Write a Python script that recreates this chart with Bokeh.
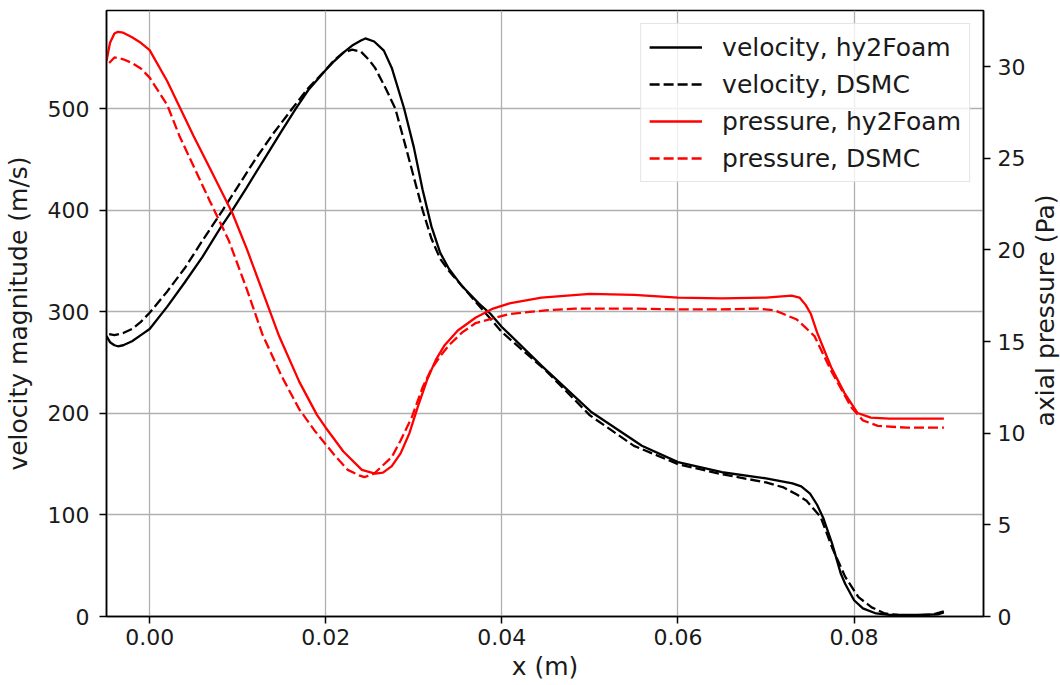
import math
from bokeh.plotting import figure
from bokeh.layouts import row
from bokeh.models import (Range1d, LinearAxis, FixedTicker, PrintfTickFormatter,
                          Legend, LegendItem, Label)
from bokeh.embed import file_html
from bokeh.resources import INLINE

# ---------------- data ----------------
vel_hy_x = [-0.0049, -0.0045, -0.004, -0.0036, -0.003, -0.002, -0.001, 0.0, 0.002, 0.004,
            0.006, 0.008, 0.0094, 0.011, 0.013, 0.015, 0.0166, 0.018, 0.020, 0.021,
            0.022, 0.023, 0.024, 0.0245, 0.0255, 0.0266, 0.0275, 0.0289, 0.030, 0.031,
            0.032, 0.033, 0.034, 0.0355, 0.0374, 0.0387, 0.040, 0.0445, 0.0502, 0.0559,
            0.060, 0.065, 0.070, 0.073, 0.074, 0.075, 0.0758, 0.0765, 0.0775, 0.0785,
            0.079, 0.080, 0.081, 0.0825, 0.084, 0.087, 0.0895, 0.0902]
vel_hy_y = [276, 270, 267, 266, 267, 271, 277, 283, 305, 329,
            354, 382, 400, 422, 450, 478, 500, 518, 538, 547,
            555, 562, 567, 569, 566, 557, 540, 500, 462, 420,
            384, 358, 342, 325, 308, 298, 285, 247, 201, 168,
            152, 142, 136, 131, 128, 121, 110, 97, 72, 42,
            32, 16, 8, 3, 1.5, 1.5, 2, 4]

vel_dsmc_x = [-0.0046, -0.004, -0.003, -0.002, -0.001, 0.0, 0.002, 0.004, 0.006, 0.0083,
              0.010, 0.012, 0.014, 0.0162, 0.018, 0.020, 0.021, 0.022, 0.023, 0.024,
              0.025, 0.0256, 0.0268, 0.0279, 0.029, 0.031, 0.032, 0.033, 0.034, 0.036,
              0.038, 0.040, 0.045, 0.050, 0.055, 0.060, 0.065, 0.070, 0.072, 0.0735,
              0.0746, 0.0762, 0.0775, 0.079, 0.0805, 0.082, 0.0835, 0.085, 0.087, 0.089,
              0.0902]
vel_dsmc_y = [278, 277, 279, 283, 290, 299, 320, 343, 370, 400,
              423, 450, 475, 500, 520, 538, 548, 555, 558, 556,
              547, 540, 520, 500, 465, 400, 372, 352, 340, 320,
              300, 280, 242, 198, 168, 150, 140, 132, 127, 120,
              114, 98, 68, 39, 19, 9, 3, 1.5, 1, 2,
              5]

p_hy_x = [-0.0049, -0.0045, -0.004, -0.0036, -0.003, -0.002, -0.001, 0.0, 0.002, 0.005,
          0.007, 0.0094, 0.011, 0.013, 0.0147, 0.017, 0.019, 0.020, 0.022, 0.0241,
          0.0256, 0.0265, 0.0275, 0.0285, 0.0295, 0.0305, 0.0315, 0.0325, 0.0335, 0.035,
          0.037, 0.039, 0.041, 0.0445, 0.050, 0.055, 0.060, 0.065, 0.070, 0.0729,
          0.0738, 0.0745, 0.0751, 0.0758, 0.0774, 0.0789, 0.0804, 0.0819, 0.084, 0.0902]
p_hy_y = [30.3, 31.3, 31.8, 31.9, 31.85, 31.6, 31.3, 30.9, 29.2, 26.2,
          24.3, 22.0, 20.1, 17.5, 15.3, 12.8, 11.0, 10.3, 9.0, 8.0,
          7.8, 7.85, 8.2, 8.9, 10.0, 11.5, 12.9, 14.0, 14.8, 15.6,
          16.3, 16.8, 17.1, 17.4, 17.6, 17.55, 17.4, 17.35, 17.4, 17.5,
          17.4, 17.0, 16.5, 15.5, 13.6, 12.2, 11.1, 10.85, 10.8, 10.8]

p_dsmc_x = [-0.0046, -0.004, -0.003, -0.002, -0.001, 0.0, 0.002, 0.0034, 0.0068, 0.009,
            0.011, 0.0128, 0.015, 0.017, 0.0188, 0.021, 0.0225, 0.0238, 0.0244, 0.0255,
            0.0275, 0.0285, 0.0298, 0.031, 0.032, 0.033, 0.034, 0.0355, 0.037, 0.0408,
            0.045, 0.0483, 0.055, 0.060, 0.065, 0.069, 0.071, 0.072, 0.0735, 0.0744,
            0.0755, 0.0774, 0.0797, 0.081, 0.0827, 0.086, 0.0902]
p_dsmc_y = [30.2, 30.5, 30.4, 30.2, 29.9, 29.4, 27.9, 26.2, 22.7, 20.5,
            17.9, 15.4, 13.1, 11.3, 10.1, 8.8, 8.0, 7.7, 7.6, 7.8,
            8.7, 9.6, 10.9, 12.5, 13.5, 14.2, 14.8, 15.5, 16.0, 16.5,
            16.7, 16.8, 16.8, 16.75, 16.75, 16.8, 16.7, 16.5, 16.2, 15.8,
            15.3, 13.4, 11.4, 10.7, 10.4, 10.3, 10.3]

x_ticks = [0.0, 0.02, 0.04, 0.06, 0.08]
vel_ticks = [0, 100, 200, 300, 400, 500]
p_ticks = [0, 5, 10, 15, 20, 25, 30]

labels = ["velocity, hy2Foam", "velocity, DSMC", "pressure, hy2Foam", "pressure, DSMC"]
right_label = "axial pressure (Pa)"

# ---------------- figure ----------------
FONT = "DejaVu Sans"
TXT = "#1a1a1a"
MAIN_W, STRIP_W, H = 1030, 30, 685

p = figure(width=MAIN_W, height=H, output_backend="svg", toolbar_location=None,
           x_range=Range1d(-0.0049, 0.0947), y_range=Range1d(0, 596.5),
           min_border_left=104, min_border_right=47, min_border_top=10, min_border_bottom=69)
p.extra_y_ranges = {"p": Range1d(0, 33.06)}

p.outline_line_color = "black"
p.outline_line_width = 1.5
p.outline_line_alpha = 1.0

p.xgrid.ticker = FixedTicker(ticks=x_ticks)
p.ygrid.ticker = FixedTicker(ticks=vel_ticks)
for g in (p.xgrid, p.ygrid):
    g.grid_line_color = "#b0b0b0"
    g.grid_line_width = 1.3

def style_axis(ax):
    ax.axis_line_color = "black"
    ax.axis_line_width = 1.5
    ax.major_tick_line_color = "black"
    ax.major_tick_line_width = 1.5
    ax.major_tick_out = 7
    ax.major_tick_in = 0
    ax.minor_tick_line_color = None
    ax.major_label_text_font = FONT
    ax.major_label_text_font_size = "22px"
    ax.major_label_text_color = TXT
    ax.axis_label_text_font = FONT
    ax.axis_label_text_font_size = "25px"
    ax.axis_label_text_font_style = "normal"
    ax.axis_label_text_color = TXT

xa = p.xaxis[0]
style_axis(xa)
xa.ticker = FixedTicker(ticks=x_ticks)
xa.formatter = PrintfTickFormatter(format="%.2f")
xa.axis_label = "x (m)"
xa.major_label_standoff = 5
xa.axis_label_standoff = 4

ya = p.yaxis[0]
style_axis(ya)
ya.ticker = FixedTicker(ticks=vel_ticks)
ya.axis_label = "velocity magnitude (m/s)"
ya.major_label_standoff = 10
ya.axis_label_standoff = 12

ra = LinearAxis(y_range_name="p")
style_axis(ra)
ra.ticker = FixedTicker(ticks=p_ticks)
ra.major_label_standoff = 7
p.add_layout(ra, "right")

r1 = p.line(vel_hy_x, vel_hy_y, line_color="black", line_width=2.3)
r2 = p.line(vel_dsmc_x, vel_dsmc_y, line_color="black", line_width=2.3, line_dash="10 4")
r3 = p.line(p_hy_x, p_hy_y, line_color="red", line_width=2.3, y_range_name="p")
r4 = p.line(p_dsmc_x, p_dsmc_y, line_color="red", line_width=2.3, line_dash="10 4",
            y_range_name="p")

legend = Legend(items=[LegendItem(label=l, renderers=[r]) for l, r in zip(labels, [r1, r2, r3, r4])],
                location="top_right")
legend.margin = 13
legend.padding = 8
legend.spacing = 7
legend.glyph_width = 53
legend.glyph_height = 30
legend.label_height = 30
legend.label_standoff = 20
legend.label_text_font = FONT
legend.label_text_font_size = "25px"
legend.label_text_color = TXT
legend.border_line_color = "#cccccc"
legend.border_line_width = 1.3
legend.background_fill_color = "white"
legend.background_fill_alpha = 0.8
p.add_layout(legend)

# narrow strip carrying the right-hand axis title (reads bottom-to-top)
q = figure(width=STRIP_W, height=H, output_backend="svg", toolbar_location=None,
           x_range=Range1d(0, STRIP_W), y_range=Range1d(0, H), min_border=0)
q.axis.visible = False
q.grid.visible = False
q.outline_line_color = None
q.add_layout(Label(x=15, y=H - 339, text=right_label, angle=math.pi / 2,
                   text_align="center", text_baseline="middle",
                   text_font=FONT, text_font_size="25px", text_color=TXT))

layout = row(p, q, spacing=0)
open("out.html", "w").write(file_html(layout, INLINE))
